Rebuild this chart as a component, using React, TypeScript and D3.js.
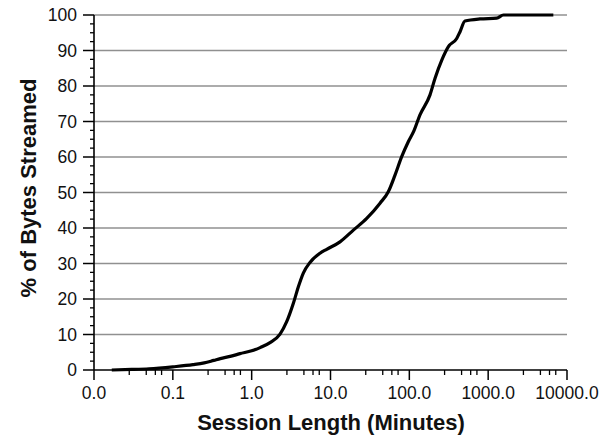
import React from "react";
import * as d3 from "d3";

const sessionMinutes = [0.0168, 0.03, 0.05, 0.1, 0.18, 0.25, 0.33, 0.4, 0.55, 0.71, 1.0, 1.28, 1.71, 2.29, 2.78, 3.38, 3.92, 4.52, 5.49, 7.36, 8.95, 13.2, 19.5, 28.8, 42.5, 54.1, 65.8, 80, 97, 115, 136, 183, 212, 258, 313, 399, 440, 508, 788, 1283, 1560, 6710];
const pctBytes = [0, 0.15, 0.35, 0.9, 1.5, 2.0, 2.7, 3.2, 3.9, 4.6, 5.4, 6.3, 7.7, 10.1, 13.6, 18.8, 23.5, 27.3, 30.3, 32.9, 34.0, 36.1, 39.4, 42.7, 47, 50.2, 54.9, 60.1, 64.3, 67.5, 71.8, 77.5, 82.2, 87.3, 91.1, 93.4, 95.3, 98.3, 98.9, 99.1, 100, 100];

const xTicks = [0.01, 0.1, 1, 10, 100, 1000, 10000];
const xTickLabels = ["0.0", "0.1", "1.0", "10.0", "100.0", "1000.0", "10000.0"];
const xMinorFactors = [2.8, 4.6, 6.0, 7.2];
const yTicks = [0, 10, 20, 30, 40, 50, 60, 70, 80, 90, 100];
const yMinorStep = 2.5;
const xTitle = "Session Length (Minutes)";
const yTitle = "% of Bytes Streamed";

export default function App() {
  const W = 611, H = 436;
  const left = 94, right = 567, top = 15, bottom = 370;
  const x = d3.scaleLog().domain([0.01, 10000]).range([left, right]);
  const y = d3.scaleLinear().domain([0, 100]).range([bottom, top]);
  const pts: [number, number][] = sessionMinutes.map((m, i) => [m, pctBytes[i]]);
  const line = d3.line<[number, number]>().x(d => x(d[0])).y(d => y(d[1])).curve(d3.curveMonotoneX);

  const xMinor: number[] = [];
  xTicks.slice(0, -1).forEach(t => xMinorFactors.forEach(f => xMinor.push(t * f)));
  const yMinor = d3.range(0, 100.01, yMinorStep).filter(v => v % 10 !== 0);

  const font = "Arial, 'Liberation Sans', Helvetica, sans-serif";
  return (
    <svg width={W} height={H} style={{ position: "absolute", left: 0, top: 0, background: "#fff" }} fontFamily={font}>
      {yTicks.filter(v => v > 0).map(v => (
        <line key={"g" + v} x1={left} x2={right} y1={y(v)} y2={y(v)} stroke="#909090" strokeWidth={1.6} />
      ))}
      {yMinor.map(v => (
        <line key={"ym" + v} x1={left - 4} x2={left} y1={y(v)} y2={y(v)} stroke="#000" strokeWidth={1.3} />
      ))}
      {yTicks.map(v => (
        <g key={"yt" + v}>
          <line x1={left - 11} x2={left} y1={y(v)} y2={y(v)} stroke="#000" strokeWidth={1.5} />
          <text x={77} y={y(v)} dy="0.36em" textAnchor="end" fontSize={17.5} fill="#111">{v}</text>
        </g>
      ))}
      {xMinor.map((v, i) => (
        <line key={"xm" + i} x1={x(v)} x2={x(v)} y1={bottom} y2={bottom + 5} stroke="#000" strokeWidth={1.3} />
      ))}
      {xTicks.map((v, i) => (
        <g key={"xt" + v}>
          <line x1={x(v)} x2={x(v)} y1={bottom} y2={bottom + 10} stroke="#000" strokeWidth={1.5} />
          <text x={x(v)} y={399} textAnchor="middle" fontSize={17.5} fill="#111">{xTickLabels[i]}</text>
        </g>
      ))}
      <line x1={left} x2={left} y1={top} y2={bottom} stroke="#000" strokeWidth={1.6} />
      <line x1={left} x2={right} y1={bottom} y2={bottom} stroke="#000" strokeWidth={1.6} />
      <path d={line(pts) || ""} fill="none" stroke="#000" strokeWidth={3.2} strokeLinejoin="round" />
      <text x={331} y={430} textAnchor="middle" fontSize={22} fontWeight="bold" fill="#111">{xTitle}</text>
      <text transform={`translate(36, 188) rotate(-90)`} textAnchor="middle" fontSize={22} fontWeight="bold" fill="#111">{yTitle}</text>
    </svg>
  );
}
